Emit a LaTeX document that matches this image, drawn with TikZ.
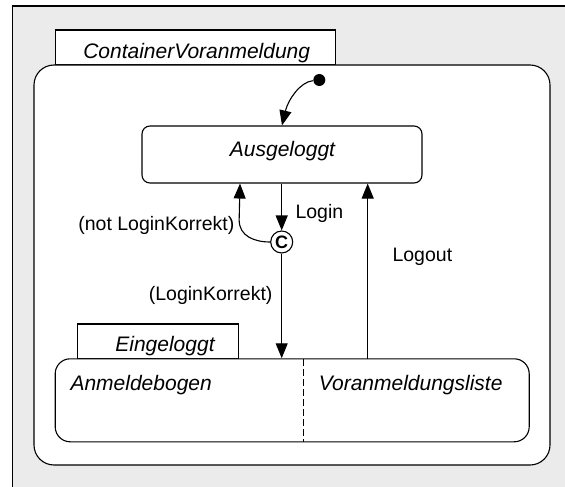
\documentclass[tikz,border=0pt]{standalone}
\usepackage{fontspec}
\setmainfont{Liberation Sans}
\usetikzlibrary{arrows.meta, positioning, calc, shapes}
\definecolor{framegray}{RGB}{235, 235, 235}

\begin{document}
\begin{tikzpicture}[x=1pt, y=-1pt, line width=1.1pt,
        statebox/.style={draw, fill=white, rounded corners=8pt, inner sep=0pt},
        tabbox/.style={draw, fill=white, inner sep=0pt},
        trans/.style={-{Triangle[length=15pt, width=12pt]}},
        lbl/.style={font=\fontsize{19.5}{23}\selectfont, inner sep=0pt},
        slbl/.style={font=\fontsize{21}{25}\selectfont\itshape, inner sep=0pt}]
        \useasboundingbox (0,0) rectangle (565,487);

        % diagram frame
        \fill[framegray] (12.7,6) rectangle (565,487);
        \draw (12.7,487) -- (12.7,6) -- (565,6);

        % outer container with its tab
        \node[tabbox, minimum width=280pt, minimum height=35pt] (conttab) at (195.7,47.5) {};
        \node[slbl, anchor=base] (conttxt) at (196.7,58.3) {ContainerVoranmeldung};
        \node[statebox, rounded corners=20pt, minimum width=516pt, minimum height=400pt] (cont) at (292,265) {};

        \node[circle, fill=black, minimum size=12pt, inner sep=0pt] (init) at (319.3,80) {};
        \node[statebox, minimum width=280pt, minimum height=57pt] (aus) at (282,154.5) {};
        \node[slbl, anchor=base] (austxt) at (282.5,156.7) {Ausgeloggt};

        % logged in state, two regions
        \node[tabbox, minimum width=161pt, minimum height=35pt] (eintab) at (157.8,341.5) {};
        \node[slbl, anchor=base] (eintxt) at (165,351.7) {Eingeloggt};
        \node[statebox, rounded corners=15pt, minimum width=474pt, minimum height=83pt] (ein) at (292.2,400.3) {};
        \node[slbl, anchor=base west] (anm) at (70,390) {Anmeldebogen};
        \node[slbl, anchor=base west] (vor) at (318.3,390) {Voranmeldungsliste};
        \coordinate (div) at (303.3,359);
        \draw[dash pattern=on 7pt off 3pt] (div) -- (div |- ein.south);

        % choice point
        \node[circle, draw, fill=white, minimum size=22pt, inner sep=0pt,
              font=\fontsize{18}{18}\selectfont\bfseries] (ch) at (281.7,242) {C};

        % transitions
        \draw[trans] (init) .. controls (300,82) and (288,100) .. (aus.north);
        \draw[trans] (aus.south -| ch) -- (ch);
        \node[lbl, anchor=base west] (login) at (295,218.3) {Login};
        \draw[trans] (ch.west) .. controls +(-16,0) and +(0,16) .. ++(-31,-22) -- ([xshift=-42pt]aus.south);
        \node[lbl, anchor=base east] (notok) at (235,230) {(not LoginKorrekt)};
        \draw[trans] (ch) -- (ch |- ein.north);
        \node[lbl, anchor=base east] (ok) at (273,300.7) {(LoginKorrekt)};
        \coordinate (lo) at (367.7,359);
        \draw[trans] (lo) -- (lo |- aus.south);
        \node[lbl, anchor=base west] (logout) at (392,261.7) {Logout};

\end{tikzpicture}
\end{document}
